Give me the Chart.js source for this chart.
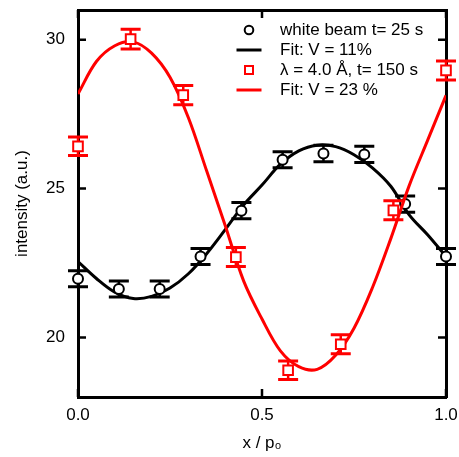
<!DOCTYPE html>
<html><head><meta charset="utf-8">
<script src="https://cdn.jsdelivr.net/npm/chart.js@4/dist/chart.umd.min.js"></script>
<style>html,body{margin:0;padding:0;background:#fff}</style>
</head><body>
<canvas id="c" width="459" height="457"></canvas>
<script>
// ---- data ----
const whiteX   = [0.000, 0.111, 0.222, 0.333, 0.444, 0.556, 0.667, 0.778, 0.889, 1.000];
const whiteY   = [21.97, 21.63, 21.63, 22.72, 24.26, 25.97, 26.18, 26.15, 24.48, 22.72];
const whiteErr = [0.27, 0.27, 0.27, 0.27, 0.27, 0.27, 0.28, 0.27, 0.27, 0.27];

const lambdaX   = [0.000, 0.143, 0.286, 0.429, 0.571, 0.714, 0.857, 1.000];
const lambdaY   = [26.42, 30.02, 28.14, 22.70, 18.90, 19.77, 24.27, 28.97];
const lambdaErr = [0.31, 0.33, 0.32, 0.32, 0.31, 0.32, 0.32, 0.32];

const fitX       = [0.00, 0.05, 0.10, 0.15, 0.20, 0.25, 0.30, 0.35, 0.40, 0.45, 0.50,
                    0.55, 0.60, 0.65, 0.70, 0.75, 0.80, 0.85, 0.90, 0.95, 1.00];
const whiteFitY  = [22.55, 21.98, 21.52, 21.31, 21.38, 21.66, 22.14, 22.82, 23.62, 24.45, 25.12,
                    25.82, 26.27, 26.46, 26.41, 26.14, 25.70, 25.08, 24.12, 23.45, 22.72];
const lambdaFitY = [28.18, 29.27, 29.80, 29.93, 29.55, 28.74, 27.38, 25.58, 23.76, 21.90, 20.62,
                    19.55, 19.02, 18.93, 19.40, 20.31, 21.67, 23.32, 25.10, 26.62, 28.13];

const xTicks = [0, 0.5, 1.0];
const xTickLabels = ['0.0', '0.5', '1.0'];
const yTicks = [20, 25, 30];
const yTickLabels = ['20', '25', '30'];
const legendLabels = ['white beam t= 25 s', 'Fit: V = 11%', 'λ = 4.0 Å, t= 150 s', 'Fit: V = 23 %'];
const xTitle = 'x / p₀';
const yTitle = 'intensity (a.u.)';

// ---- helpers ----
const FONT = '"Liberation Sans", Arial, Helvetica, sans-serif';
const RED = '#ff0000';
const toPts = (xs, ys) => xs.map((x, i) => ({ x: x, y: ys[i] }));

const errorBars = {
  id: 'errorBars',
  beforeDatasetDraw(chart, args) {
    const ds = chart.data.datasets[args.index];
    if (!ds.errors) return;
    const xs = chart.scales.x, ys = chart.scales.y, ctx = chart.ctx;
    ctx.save();
    ctx.strokeStyle = ds.pointBorderColor;
    ds.data.forEach((p, i) => {
      const px = xs.getPixelForValue(p.x);
      const yHi = ys.getPixelForValue(p.y + ds.errors[i]);
      const yLo = ys.getPixelForValue(p.y - ds.errors[i]);
      ctx.lineWidth = 2.5;
      ctx.beginPath(); ctx.moveTo(px, yLo); ctx.lineTo(px, yHi); ctx.stroke();
      ctx.lineWidth = 3;
      ctx.beginPath();
      ctx.moveTo(px - 10, yLo); ctx.lineTo(px + 10, yLo);
      ctx.moveTo(px - 10, yHi); ctx.lineTo(px + 10, yHi);
      ctx.stroke();
    });
    ctx.restore();
  }
};

const innerTicks = {
  id: 'innerTicks',
  afterDraw(chart) {
    const { ctx, chartArea: a, scales } = chart;
    const L = 8;
    ctx.save();
    ctx.strokeStyle = '#000'; ctx.lineWidth = 2.5;
    ctx.beginPath();
    scales.x.ticks.forEach(t => {
      const px = scales.x.getPixelForValue(t.value);
      ctx.moveTo(px, a.bottom); ctx.lineTo(px, a.bottom - L);
      ctx.moveTo(px, a.top); ctx.lineTo(px, a.top + L);
    });
    scales.y.ticks.forEach(t => {
      const py = scales.y.getPixelForValue(t.value);
      ctx.moveTo(a.left, py); ctx.lineTo(a.left + L, py);
      ctx.moveTo(a.right, py); ctx.lineTo(a.right - L, py);
    });
    ctx.stroke();
    ctx.restore();
  }
};

const boxLegend = {
  id: 'boxLegend',
  afterDraw(chart) {
    const { ctx, chartArea: a } = chart;
    const mx = a.left + 171, tx = a.left + 202, y0 = a.top + 20, dy = 20;
    ctx.save();
    ctx.font = '17px ' + FONT;
    ctx.textBaseline = 'middle';
    ctx.textAlign = 'left';
    ctx.fillStyle = '#000';
    legendLabels.forEach((txt, i) => {
      const y = y0 + i * dy;
      const col = i < 2 ? '#000' : RED;
      ctx.strokeStyle = col;
      if (i === 0) {
        ctx.lineWidth = 2; ctx.fillStyle = '#fff';
        ctx.beginPath(); ctx.arc(mx, y, 4.3, 0, Math.PI * 2); ctx.fill(); ctx.stroke();
      } else if (i === 2) {
        ctx.lineWidth = 2; ctx.fillStyle = '#fff';
        ctx.fillRect(mx - 4, y - 4, 8, 8); ctx.strokeRect(mx - 4, y - 4, 8, 8);
      } else {
        ctx.lineWidth = 3;
        ctx.beginPath(); ctx.moveTo(mx - 12.5, y); ctx.lineTo(mx + 12.5, y); ctx.stroke();
      }
      ctx.fillStyle = '#000';
      ctx.fillText(txt, tx, y);
    });
    ctx.restore();
  }
};

const axisFont = { family: FONT, size: 17 };
const fixSize = (w, h) => s => {
  if (w !== null) s.width = w;
  if (h !== null) s.height = h;
  s.paddingLeft = 0; s.paddingRight = 0; s.paddingTop = 0; s.paddingBottom = 0;
};

new Chart(document.getElementById('c'), {
  type: 'scatter',
  data: {
    datasets: [
      { label: legendLabels[0], data: toPts(whiteX, whiteY), errors: whiteErr, order: 3,
        pointStyle: 'circle', pointRadius: 5, pointBorderWidth: 2,
        pointBackgroundColor: '#fff', pointBorderColor: '#000', clip: false },
      { label: legendLabels[1], data: toPts(fitX, whiteFitY), order: 4, showLine: true,
        borderColor: '#000', borderWidth: 3, pointRadius: 0, tension: 0.35 },
      { label: legendLabels[2], data: toPts(lambdaX, lambdaY), errors: lambdaErr, order: 1,
        pointStyle: 'rect', pointRadius: 6.8, pointBorderWidth: 2,
        pointBackgroundColor: '#fff', pointBorderColor: RED, clip: false },
      { label: legendLabels[3], data: toPts(fitX, lambdaFitY), order: 2, showLine: true,
        borderColor: RED, borderWidth: 3, pointRadius: 0, tension: 0.35 }
    ]
  },
  options: {
    responsive: false,
    animation: false,
    devicePixelRatio: 1,
    layout: { padding: 0 },
    plugins: { legend: { display: false }, tooltip: { enabled: false } },
    scales: {
      x: {
        type: 'linear', position: 'bottom', min: 0, max: 1,
        afterBuildTicks: s => { s.ticks = xTicks.map(v => ({ value: v })); },
        afterFit: fixSize(null, 60),
        ticks: { callback: (v, i) => xTickLabels[i], color: '#000', font: axisFont,
                 padding: 8, maxRotation: 0, autoSkip: false },
        grid: { display: false, drawTicks: false },
        border: { display: true, color: '#000', width: 3 },
        title: { display: true, text: xTitle, color: '#000', font: axisFont, padding: { top: 4, bottom: 3 } }
      },
      x2: {
        type: 'linear', position: 'top', min: 0, max: 1,
        afterFit: fixSize(null, 10),
        ticks: { display: false }, grid: { display: false, drawTicks: false },
        border: { display: true, color: '#000', width: 3 }
      },
      y: {
        type: 'linear', position: 'left', min: 18, max: 31,
        afterBuildTicks: s => { s.ticks = yTicks.map(v => ({ value: v })); },
        afterFit: fixSize(78, null),
        ticks: { callback: (v, i) => yTickLabels[i], color: '#000', font: axisFont,
                 padding: 13, autoSkip: false },
        grid: { display: false, drawTicks: false },
        border: { display: true, color: '#000', width: 3 },
        title: { display: true, text: yTitle, color: '#000', font: axisFont, padding: { top: 12, bottom: 0 } }
      },
      y2: {
        type: 'linear', position: 'right', min: 18, max: 31,
        afterFit: fixSize(13, null),
        ticks: { display: false }, grid: { display: false, drawTicks: false },
        border: { display: true, color: '#000', width: 3 }
      }
    }
  },
  plugins: [errorBars, innerTicks, boxLegend]
});
</script>
</body></html>
